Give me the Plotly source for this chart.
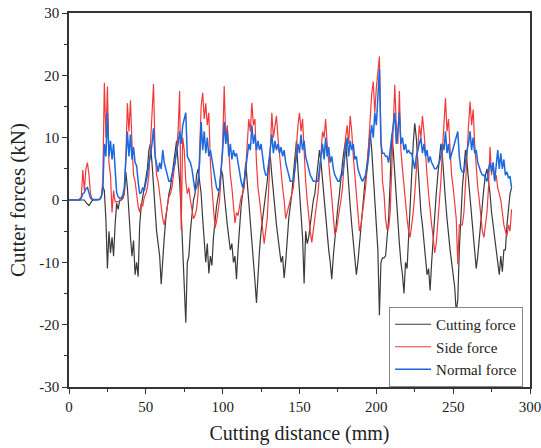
import plotly.graph_objects as go

cutting_force = [
    0, 0, 0, 0, 0, 0, 0, 0,
    0, 0.1, 0, -0.4, -0.7, -0.9, -0.5, -0.1, 0, 0, 0, 0, 0.2, 0.5,
    2.2, 1.5, -3, -11, -5, -8.5, -6, -9, -4, -0.5, -1.5, 0, 0, 0.2,
    1, 4.5, 2, -3, -6, -9, -6.5, -12, -10, -12.3, -4, -1, 0.5,
    1.5, 3, 5, 8, 9, 6, 2, -2, -5, -7, -9, -13.5, -9, -6, -3, -1, 1,
    2, 4, 6, 8, 9.5, 6, 3, -2, -8, -13, -19.7, -10, -9, -5, -2, 0, 1, 4,
    5, 3, 1, -3, -6, -10, -7, -11.8, -9, -10.5, -6, -3, -1, 0.5,
    2, 5, 4, 1, -2, -4, -6, -8, -7, -10, -9, -12.7, -8, -4, -1, 1,
    3, 6, 3, 0, -3, -6, -9, -13, -16.5, -11, -8, -5, -3, -1, 1,
    3, 6, 7, 4, 1, -2, -4, -6, -8, -10, -9, -12.5, -10, -6, -3, -1, 1,
    4, 7, 9.5, 5, 1, -3, -6, -13.4, -5, -7, -6, -4, -2, 0, 1, 3,
    5, 8, 6, 3, 0, -3, -6, -8, -10, -12.7, -9, -6, -3, -1, 1, 4,
    6, 8, 9.5, 6, 2, -1, -4, -7, -9, -12, -10, -7, -4, -1, 2,
    4, 6, 9, 11, 8, 4, 1, -3, -8, -18.5, -10, -9.3, -9.3, -9, -6,
    -3, 3, 10.5, 8, 4, 0, -4, -7, -10, -12, -15, -10, -11, -6, -2, 5,
    9, 12.3, 10, 6, 2, -2, -4, -7, -10, -12, -11, -14.5, -10, -6, -2, 1, 4,
    7, 9, 7, 3, 0, -3, -6, -8, -10, -12, -14, -18, -16, -8, -2, 2,
    5, 8, 6, 3, 0, -3, -5, -8, -11, -9, -6, -3, 0, 2, 4,
    5, 3, 1, -2, -4, -6, -8, -10, -12, -9, -11.5, -8, -8, -4, -1, 1, 2,
]

side_force = [
    0, 0, 0, 0, 0, 0, 0, 0.2,
    0.5, 4.8, 1.5, 5, 6, 4, 1, 0.2, 0, 0, 0, 0, 0.1, 0.5,
    3, 18.8, 10, 18.2, 6, 4, -2, 1.5, -0.3, -0.3, -0.3, -0.2, 0, 0.5,
    1, 7, 15.5, 11, 16, 9, 4, 3, 1, -1, -2, -0.5, -1,
    0.5, 1, 2, 4, 9, 12, 18.6, 8, 4, 3, 1, -1, -3, -4, -2.5, -1, 0.5,
    1, 2, 4, 6, 8, 11, 17.5, -4.8, 10, 8, 3, 1, 2, 0, -1.5, -3, -2.5, -1.5,
    1, 8, 15, 17.2, 13, 15.5, 12, 14, 6, 2, -2, -4.5, -3.5, -2,
    0, 4, 9, 18.3, 10, 12, 7, 4, 2, -1, -3.7, -2, -2.5, -1, 0.5, 1,
    2, 5, 9, 13, 11, 15.6, 12, 13, 6, 2, 0, -2, -5, -7, -5,
    -3, 2, 8, 14, 10, 12, 13.5, 10, 7, 5, 2, 0, -3, -2, -1, 0, 1,
    2, 5, 9, 12, 14, 11, 13, 7, 3, 0, -3, -5, -6.8, -5, -3, -1,
    1, 4, 8, 11, 10, 13, 9, 6, 3, 0, -3, -5.5, -5, -3, -1.5, 0,
    2, 6, 10, 12, 9, 13.5, 11, 7, 4, 1, -3, -5, -4, -2, 0,
    2, 5, 9, 14, 17, 19, 14, 18, 21, 23, 10, 3, 1, -3, -4.8,
    -4.5, -2, 4, 10, 18.5, 12, 9, 17.5, 8, 5, 2, -1, -3, -5, -6, -4,
    -2, 1, 5, 9, 12, 10, 13.5, 11, 7, 4, 1, -2, -4, -6, -8.5, -7, -4,
    -1, 3, 8, 12, 16.3, 11, 13, 8, 4, 2, 0, -3, -10.3, -4, -4, -4,
    -2, 2, 7, 12, 15.8, 12, 14.5, 9, 5, 2, 0, -3, -5, -6, -4,
    -2, 2, 8.5, 4, 6, 3, 4, 2, 1, 0, -2, -4, -5, -5.8, -4, -5, -1.5,
]

normal_force = [
    0, 0, 0, 0, 0, 0, 0, 0,
    0.3, 1, 1.2, 1.8, 2, 1.2, 0.3, 0.1, 0.1, 0.1, 0.1, 0.1, 0.1, 0.5,
    1.5, 9, 7, 14, 7, 9.5, 6.5, 9, 4, 1.2, 0.5, 0.3, 0.3, 0.8,
    2, 6, 11, 7, 10.5, 6.5, 8.5, 6, 5.5, 3, 1, 1.2, 2,
    1.5, 2.5, 4, 6, 7, 9, 11.5, 7, 5.5, 4.5, 6, 5, 8, 6, 5, 4, 3,
    3, 4, 5, 6, 8, 9, 11, 9, 12, 13, 14, 7, 6.5, 6, 5, 3, 1.5, 2,
    3, 6, 12.5, 8, 11, 7.5, 10, 7, 8, 6.5, 5, 4, 2, 1.5,
    2, 5, 8, 12.5, 9, 11, 7, 9, 6.5, 8, 7, 7.5, 6, 4, 3, 2,
    3, 5, 7, 9, 8, 12, 9, 10.5, 8, 9.5, 8, 9, 7, 5, 4,
    4, 6, 8, 10.5, 7.5, 9.5, 8, 9, 7.5, 8.5, 7, 8, 6, 5, 4, 3, 3,
    3, 5, 7, 9, 7.5, 10.5, 8, 9.5, 7, 6, 5, 4, 3.5, 3, 3, 3,
    3, 5, 7, 9, 6.5, 10, 7, 8.5, 6, 7, 5, 4, 3.5, 3, 3, 4,
    4, 6, 8, 10, 7, 9.5, 8, 9, 6.5, 7, 5, 4, 3.5, 3, 3.5,
    4, 5, 7, 10, 12, 10, 14, 12, 17, 21, 9, 7.5, 7.5, 7, 7,
    6, 8, 10, 12, 14, 9, 11, 14, 9, 10, 8, 9, 7.5, 8, 7.5, 7.5,
    6, 5, 7, 8, 9, 10, 7.5, 9, 7, 8, 6, 7, 6, 5.5, 5, 5, 5.5,
    6, 7, 9, 8, 11, 7.5, 9, 6.5, 7.5, 8.5, 9.5, 10.5, 11, 7, 5, 4.5,
    4.5, 6, 8, 9, 11, 8, 10, 7.5, 8, 6, 5, 4.5, 4, 4, 3.5,
    3, 5, 6, 4.5, 6, 3, 5, 8, 5, 7.5, 5, 6.5, 4, 4.5, 3.5, 3.8, 2,
]

distance = list(range(len(cutting_force)))  # mm
assert len(side_force) == len(distance) == len(normal_force)

y_ticks = [-30, -20, -10, 0, 10, 20, 30]
y_labels = ["-30", "-20", "-10", "0", "10", "20", "30"]

fig = go.Figure()
fig.add_trace(go.Scatter(x=distance, y=cutting_force, mode="lines", name="Cutting force",
                         line=dict(color="#3a3a3a", width=1.2)))
fig.add_trace(go.Scatter(x=distance, y=side_force, mode="lines", name="Side force",
                         line=dict(color="#f03a3a", width=1.2)))
fig.add_trace(go.Scatter(x=distance, y=normal_force, mode="lines", name="Normal force",
                         line=dict(color="#1c68de", width=1.5)))

font = "Liberation Serif"
fig.update_layout(
    width=541, height=448,
    margin=dict(l=69, r=11, t=13, b=61, autoexpand=False),
    paper_bgcolor="white", plot_bgcolor="white",
    font=dict(family=font, size=15, color="#222"),
    showlegend=True,
    legend=dict(x=0.985, y=0.0, xanchor="right", yanchor="bottom",
                bordercolor="#888", borderwidth=1, bgcolor="white",
                font=dict(size=15), tracegroupgap=0, itemwidth=36),
)
fig.update_xaxes(
    range=[0, 300], dtick=50, tick0=0, automargin=False,
    showgrid=False, zeroline=False,
    showline=True, linecolor="#333", linewidth=1.5, mirror=True,
    ticks="outside", ticklen=5, tickcolor="#333",
    tickfont=dict(family=font, size=15), ticklabeloverflow="allow",
    minor=dict(dtick=25, ticks="outside", ticklen=3, tickcolor="#333"),
    title=dict(text="Cutting distance (mm)", font=dict(family=font, size=20), standoff=12),
)
fig.update_yaxes(
    range=[-30, 30], tickmode="array", tickvals=y_ticks, ticktext=y_labels, automargin=False,
    showgrid=False, zeroline=False,
    showline=True, linecolor="#333", linewidth=1.5, mirror=True,
    ticks="outside", ticklen=5, tickcolor="#333",
    tickfont=dict(family=font, size=15), ticklabeloverflow="allow",
    minor=dict(tickmode="linear", tick0=-30, dtick=5, ticks="outside", ticklen=3, tickcolor="#333"),
    title=dict(text="Cutter forces (kN)", font=dict(family=font, size=21), standoff=8),
)

# drop the default 8 px page margin so the figure sits at the window corner
fig.write_html("out.html", config={"displayModeBar": False},
               post_script="document.body.style.margin='0';")
